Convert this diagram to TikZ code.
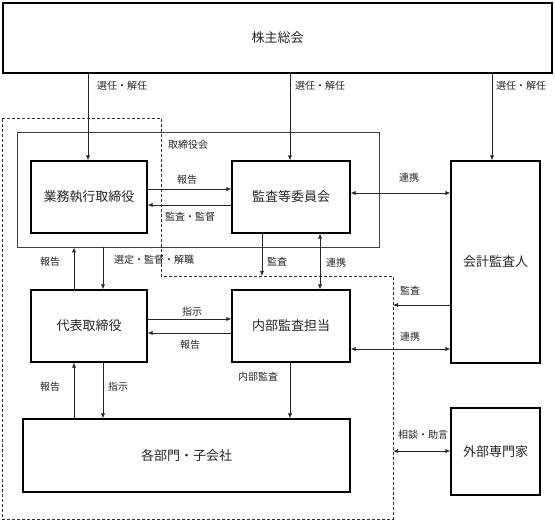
\documentclass[tikz,border=0pt]{standalone}
\usepackage{fontspec}
\setmainfont{Noto Sans CJK JP}
\usetikzlibrary{arrows.meta,shadows}
\begin{document}
\begin{tikzpicture}[x=1pt,y=-1pt,
  box/.style={draw=black, line width=1.1pt, fill=white, inner sep=0pt,
    font=\fontsize{13}{15}\selectfont, text=black!85,
    drop shadow={shadow xshift=1.2pt, shadow yshift=-1.2pt, opacity=0.3}},
  grp/.style={draw=black!75, line width=0.7pt},
  dashline/.style={draw=black!80, line width=0.7pt, dash pattern=on 3pt off 2pt},
  arr/.style={draw=black!85, line width=0.7pt, -{Latex[length=5pt,width=4pt]}},
  darr/.style={draw=black!85, line width=0.7pt, {Latex[length=5pt,width=4pt]}-{Latex[length=5pt,width=4pt]}},
  lbl/.style={font=\fontsize{10}{12}\selectfont, text=black!85, inner sep=0pt}]
\useasboundingbox (0,0) rectangle (555,521);
\fill[white] (0,0) rectangle (555,521);

% dashed boundary (internal control)
\coordinate (d1) at (2,118);
\coordinate (d2) at (161,118);
\coordinate (d3) at (161,276);
\coordinate (d4) at (393,276);
\coordinate (d5) at (393,519);
\coordinate (d6) at (2,519);
\draw[dashline] (d1) -- (d2) -- (d3) -- (d4) -- (d5) -- (d6) -- cycle;

% board of directors group
\node[grp, minimum width=362pt, minimum height=115pt, inner sep=0pt] (board) at (198,189.5) {};
\node[lbl, anchor=west] (boardlbl) at (168,145) {取締役会};

% boxes
\node[box, minimum width=549pt, minimum height=70pt] (top) at (277.5,38) {株主総会};
\node[box, minimum width=116pt, minimum height=72pt] (gyomu) at (89,197) {業務執行取締役};
\node[box, minimum width=118pt, minimum height=72pt] (kansa) at (291,197) {監査等委員会};
\node[box, minimum width=89pt, minimum height=202pt] (kaikei) at (495.5,262) {会計監査人};
\node[box, minimum width=116pt, minimum height=72pt] (daihyo) at (89,326) {代表取締役};
\node[box, minimum width=118pt, minimum height=72pt] (naibu) at (291,326) {内部監査担当};
\node[box, minimum width=327pt, minimum height=73pt] (kaku) at (186.5,455.5) {各部門・子会社};
\node[box, minimum width=89pt, minimum height=87pt] (gaibu) at (495.5,451.5) {外部専門家};

% x / y helper coordinates
\coordinate (x88) at (88,0);
\coordinate (x290) at (290,0);
\coordinate (x492) at (492,0);
\coordinate (x74) at (74,0);
\coordinate (x103) at (103,0);
\coordinate (x262) at (262,0);
\coordinate (x320) at (320,0);
\coordinate (y189) at (0,189);
\coordinate (y205) at (0,205);
\coordinate (y193) at (0,193);
\coordinate (y319) at (0,319);
\coordinate (y333) at (0,333);
\coordinate (y305) at (0,305);
\coordinate (y349) at (0,349);
\coordinate (y451) at (0,451);

% shareholders -> elected bodies
\draw[arr] (top.south -| x88) -- (gyomu.north -| x88);
\draw[arr] (top.south -| x290) -- (kansa.north -| x290);
\draw[arr] (top.south -| x492) -- (kaikei.north -| x492);
\node[lbl, anchor=west] (s1) at (97,86) {選任・解任};
\node[lbl, anchor=west] (s2) at (295,86) {選任・解任};
\node[lbl, anchor=west] (s3) at (496,86) {選任・解任};

% gyomu <-> kansa
\draw[arr] (gyomu.east |- y189) -- (kansa.west |- y189);
\draw[arr] (kansa.west |- y205) -- (gyomu.east |- y205);
\node[lbl] (l1) at (187,180) {報告};
\node[lbl] (l2) at (190,217) {監査・監督};

% kansa <-> kaikei
\draw[darr] (kansa.east |- y193) -- (kaikei.west |- y193);
\node[lbl] (l3) at (409,178) {連携};

% board <-> daihyo
\draw[arr] (daihyo.north -| x74) -- (board.south -| x74);
\draw[arr] (board.south -| x103) -- (daihyo.north -| x103);
\node[lbl] (l4) at (50,262) {報告};
\node[lbl] (l5) at (154,260) {選定・監督・解職};

% kansa -> internal control boundary, kansa <-> naibu
\draw[arr] (kansa.south -| x262) -- (d3 -| x262);
\node[lbl] (l6) at (277,262) {監査};
\draw[darr] (kansa.south -| x320) -- (naibu.north -| x320);
\node[lbl] (l7) at (336,263) {連携};

% daihyo <-> naibu
\draw[arr] (daihyo.east |- y319) -- (naibu.west |- y319);
\draw[arr] (naibu.west |- y333) -- (daihyo.east |- y333);
\node[lbl] (l8) at (192,312) {指示};
\node[lbl] (l9) at (190,345) {報告};

% kaikei -> boundary, naibu <-> kaikei
\draw[arr] (kaikei.west |- y305) -- (d4 |- y305);
\node[lbl] (l10) at (410,291) {監査};
\draw[darr] (naibu.east |- y349) -- (kaikei.west |- y349);
\node[lbl] (l11) at (410,337) {連携};

% daihyo <-> kaku
\draw[arr] (kaku.north -| x74) -- (daihyo.south -| x74);
\draw[arr] (daihyo.south -| x103) -- (kaku.north -| x103);
\node[lbl] (l12) at (50,387) {報告};
\node[lbl] (l13) at (118,387) {指示};

% naibu -> kaku
\draw[arr] (naibu.south -| x290) -- (kaku.north -| x290);
\node[lbl] (l14) at (258,377) {内部監査};

% gaibu <-> boundary
\draw[darr] (d4 |- y451) -- (gaibu.west |- y451);
\node[lbl] (l15) at (423,435) {相談・助言};
\end{tikzpicture}
\end{document}
